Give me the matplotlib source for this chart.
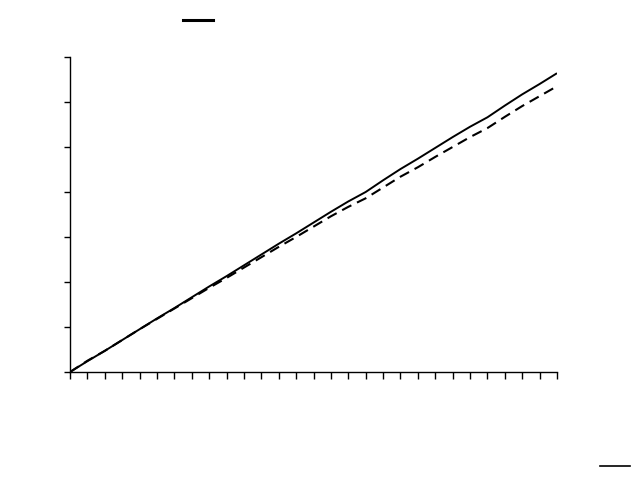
import matplotlib
matplotlib.use("Agg")
import matplotlib.pyplot as plt
from matplotlib.lines import Line2D

x_steps = list(range(29))
series_solid = [0, 2.4, 4.7, 7.1, 9.5, 11.9, 14.2, 16.6, 19.0, 21.3, 23.7, 26.1, 28.5, 30.8,
                33.2, 35.6, 37.9, 40.0, 42.6, 45.1, 47.4, 49.8, 52.2, 54.5, 56.6, 59.2, 61.7, 64.0, 66.4]
series_dashed = [0, 2.5, 4.7, 7.1, 9.5, 11.8, 14.1, 16.4, 18.7, 20.9, 23.2, 25.5, 27.8, 30.0,
                 32.3, 34.6, 36.7, 38.6, 41.0, 43.4, 45.5, 47.8, 50.0, 52.2, 54.2, 56.7, 59.1, 61.3, 63.5]
y_ticks = [0, 10, 20, 30, 40, 50, 60, 70]

fig = plt.figure(figsize=(6.31, 4.98), dpi=100)
ax = fig.add_axes([70/631, 1-372/498, (557-70)/631, (372-57)/498])
ax.plot(x_steps, series_solid, color="black", lw=1.4, solid_capstyle="butt")
ax.plot(x_steps, series_dashed, color="black", lw=1.5, dashes=(5, 3))
ax.set_xlim(0, 28)
ax.set_ylim(0, 70)
ax.set_xticks(x_steps)
ax.set_yticks(y_ticks)
ax.set_xticklabels([])
ax.set_yticklabels([])
for s in ["top", "right"]:
    ax.spines[s].set_visible(False)
for s in ["left", "bottom"]:
    ax.spines[s].set_linewidth(1.0)
ax.tick_params(axis="x", direction="out", length=5, width=1.0)
ax.tick_params(axis="y", direction="out", length=4, width=1.0)

# legend handles without text
fig.add_artist(Line2D([183/631, 213/631], [1-20/498, 1-20/498], color="black", lw=2.2,
                      transform=fig.transFigure))
fig.add_artist(Line2D([600/631, 630/631], [1-466/498, 1-466/498], color="black", lw=1.2,
                      transform=fig.transFigure))

fig.savefig("out.png", dpi=100)
